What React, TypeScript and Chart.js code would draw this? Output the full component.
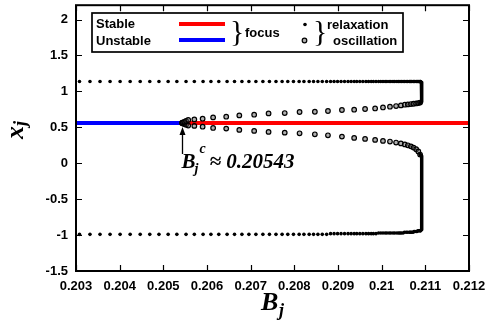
import React, { useEffect, useRef } from "react";
import { Chart, registerables } from "chart.js";

Chart.register(...registerables);

// ---- axes ----
const xMin = 0.203;
const xMax = 0.212;
const yMin = -1.5;
const yMax = 2.2;
const xTicks = [0.203, 0.204, 0.205, 0.206, 0.207, 0.208, 0.209, 0.21, 0.211, 0.212];
const xTickLabels = ["0.203", "0.204", "0.205", "0.206", "0.207", "0.208", "0.209", "0.21", "0.211", "0.212"];
const yTicks = [-1.5, -1, -0.5, 0, 0.5, 1, 1.5, 2];
const yTickLabels = ["-1.5", "-1", "-0.5", "0", "0.5", "1", "1.5", "2"];

// ---- equilibrium (focus) ----
const hopfB = 0.20543;
const unstableFocusB = [0.203, 0.20543];
const unstableFocusX = [0.56, 0.56];
const stableFocusB = [0.20543, 0.212];
const stableFocusX = [0.56, 0.56];

// ---- stable relaxation oscillation (max / min of x_j) ----
const stableB = [
  0.20308, 0.20332, 0.20355, 0.20378, 0.20401, 0.20424, 0.20447, 0.20469, 0.2049, 0.20511,
  0.20531, 0.20552, 0.20571, 0.20591, 0.20609, 0.20627, 0.20646, 0.20663, 0.2068, 0.20696,
  0.20712, 0.20728, 0.20743, 0.20758, 0.20772, 0.20785, 0.20798, 0.20811, 0.20822, 0.20834,
  0.20844, 0.20854, 0.20864, 0.20874, 0.20883, 0.20891, 0.20899, 0.20907, 0.20915, 0.20923,
  0.2093, 0.20937, 0.20943, 0.2095, 0.20957, 0.20964, 0.2097, 0.20976, 0.20981, 0.20987,
  0.20993, 0.20998, 0.21003, 0.21008, 0.21012, 0.21017, 0.21021, 0.21026, 0.2103, 0.21035,
  0.21039, 0.21042, 0.21045, 0.21049, 0.21052, 0.21056, 0.21059, 0.21063, 0.21065, 0.21067,
  0.21069, 0.21072, 0.21074, 0.21076, 0.21079, 0.21081, 0.21083, 0.21085, 0.21087, 0.21089,
];
const stableMax = [
  1.137, 1.137, 1.137, 1.137, 1.137, 1.137, 1.137, 1.137, 1.137, 1.137,
  1.137, 1.137, 1.137, 1.137, 1.137, 1.137, 1.137, 1.137, 1.137, 1.137,
  1.137, 1.137, 1.137, 1.137, 1.137, 1.137, 1.137, 1.137, 1.137, 1.137,
  1.137, 1.137, 1.137, 1.137, 1.137, 1.137, 1.137, 1.137, 1.137, 1.137,
  1.137, 1.137, 1.137, 1.137, 1.137, 1.137, 1.137, 1.137, 1.137, 1.137,
  1.137, 1.137, 1.137, 1.137, 1.137, 1.137, 1.137, 1.137, 1.137, 1.137,
  1.137, 1.137, 1.137, 1.137, 1.137, 1.137, 1.137, 1.137, 1.137, 1.137,
  1.137, 1.137, 1.137, 1.137, 1.137, 1.137, 1.137, 1.137, 1.136, 1.136,
];
const stableMin = [
  -0.99, -0.99, -0.99, -0.99, -0.99, -0.99, -0.99, -0.99, -0.99, -0.99,
  -0.99, -0.99, -0.99, -0.99, -0.99, -0.99, -0.99, -0.99, -0.99, -0.99,
  -0.99, -0.99, -0.99, -0.99, -0.99, -0.99, -0.99, -0.99, -0.99, -0.99,
  -0.99, -0.99, -0.99, -0.99, -0.98, -0.98, -0.98, -0.98, -0.98, -0.98,
  -0.98, -0.98, -0.98, -0.98, -0.98, -0.98, -0.98, -0.98, -0.98, -0.98,
  -0.97, -0.97, -0.97, -0.97, -0.97, -0.97, -0.97, -0.97, -0.97, -0.97,
  -0.97, -0.97, -0.97, -0.97, -0.96, -0.96, -0.96, -0.96, -0.96, -0.96,
  -0.96, -0.96, -0.95, -0.95, -0.95, -0.95, -0.94, -0.94, -0.94, -0.94,
];

// ---- fold of cycles (dense part of the stable branch) ----
const foldUpperB = [0.21089, 0.21091, 0.21092, 0.21092, 0.21091, 0.21088];
const foldUpperX = [1.136, 1.128, 1.11, 0.87, 0.855, 0.845];
const foldLowerB = [0.21089, 0.21091, 0.21092, 0.21092, 0.21091, 0.21088];
const foldLowerX = [-0.94, -0.925, -0.895, 0.07, 0.1, 0.12];

// ---- unstable oscillation (max / min of x_j) ----
const unstableB = [
  0.20543, 0.20545, 0.20548, 0.20552, 0.20557, 0.20571, 0.2059, 0.20614, 0.20644, 0.20674,
  0.20708, 0.20741, 0.20778, 0.20812, 0.20847, 0.20877, 0.20909, 0.20937, 0.20962, 0.20985,
  0.21003, 0.21019, 0.21033, 0.21044, 0.21053, 0.2106, 0.21067, 0.21073, 0.21079, 0.21084,
  0.21088,
];
const unstableMax = [
  0.56, 0.567, 0.576, 0.588, 0.602, 0.61, 0.62, 0.638, 0.648, 0.666,
  0.676, 0.694, 0.699, 0.713, 0.717, 0.727, 0.741, 0.745, 0.755, 0.763,
  0.777, 0.787, 0.796, 0.805, 0.815, 0.819, 0.824, 0.828, 0.832, 0.838,
  0.845,
];
const unstableMin = [
  0.56, 0.553, 0.545, 0.535, 0.525, 0.52, 0.509, 0.491, 0.482, 0.464,
  0.45, 0.436, 0.426, 0.417, 0.403, 0.389, 0.371, 0.353, 0.339, 0.325,
  0.311, 0.302, 0.288, 0.276, 0.262, 0.25, 0.235, 0.218, 0.195, 0.165,
  0.12,
];

const pts = (xs: number[], ys: number[]) => xs.map((x, i) => ({ x, y: ys[i] }));

const SANS = "'Liberation Sans', Arial, sans-serif";
const SERIF = "'Liberation Serif', 'Times New Roman', serif";
const RING = "#000";
const RING_FILL = "rgba(80,80,80,0.45)";

const decorPlugin = {
  id: "decor",
  afterDatasetsDraw(chart: any) {
    const { ctx, chartArea: a, scales } = chart;
    const xs = scales.x;
    const ys = scales.y;
    ctx.save();

    // frame
    ctx.strokeStyle = "#000";
    ctx.lineWidth = 2;
    ctx.strokeRect(a.left, a.top, a.right - a.left, a.bottom - a.top);

    // inward ticks on all four sides
    ctx.lineWidth = 1.2;
    ctx.beginPath();
    const tl = 6;
    xTicks.forEach((v) => {
      const px = Math.round(xs.getPixelForValue(v)) + 0.5;
      ctx.moveTo(px, a.bottom);
      ctx.lineTo(px, a.bottom - tl);
      ctx.moveTo(px, a.top);
      ctx.lineTo(px, a.top + tl);
    });
    yTicks.forEach((v) => {
      const py = Math.round(ys.getPixelForValue(v)) + 0.5;
      ctx.moveTo(a.left, py);
      ctx.lineTo(a.left + tl, py);
      ctx.moveTo(a.right, py);
      ctx.lineTo(a.right - tl, py);
    });
    ctx.stroke();

    // legend box
    const lx = 92, ly = 13, lw = 311, lh = 39;
    ctx.fillStyle = "#fff";
    ctx.fillRect(lx, ly, lw, lh);
    ctx.lineWidth = 1.7;
    ctx.strokeStyle = "#000";
    ctx.strokeRect(lx, ly, lw, lh);

    ctx.fillStyle = "#000";
    ctx.font = `bold 13px ${SANS}`;
    ctx.textBaseline = "middle";
    ctx.textAlign = "left";
    ctx.fillText("Stable", 96, 24.5);
    ctx.fillText("Unstable", 96, 41);
    ctx.fillText("focus", 245, 33);
    ctx.fillText("relaxation", 327, 25);
    ctx.fillText("oscillation", 333, 41.5);

    ctx.lineWidth = 4;
    ctx.strokeStyle = "#ff0000";
    ctx.beginPath();
    ctx.moveTo(179, 24);
    ctx.lineTo(225, 24);
    ctx.stroke();
    ctx.strokeStyle = "#0000ff";
    ctx.beginPath();
    ctx.moveTo(179, 40);
    ctx.lineTo(225, 40);
    ctx.stroke();

    ctx.font = `30px ${SERIF}`;
    ctx.fillStyle = "#000";
    ctx.fillText("}", 230, 33);
    ctx.fillText("}", 313, 33);

    ctx.beginPath();
    ctx.arc(305, 24.5, 1.8, 0, Math.PI * 2);
    ctx.fill();
    ctx.beginPath();
    ctx.arc(304.5, 40.5, 2.3, 0, Math.PI * 2);
    ctx.fillStyle = RING_FILL;
    ctx.fill();
    ctx.lineWidth = 1.2;
    ctx.strokeStyle = RING;
    ctx.stroke();

    // annotation arrow at the Hopf point
    const hx = Math.round(xs.getPixelForValue(hopfB)) + 0.5;
    const hy = ys.getPixelForValue(stableFocusX[0]);
    ctx.strokeStyle = "#000";
    ctx.fillStyle = "#000";
    ctx.lineWidth = 1.3;
    ctx.beginPath();
    ctx.moveTo(hx, hy + 31);
    ctx.lineTo(hx, hy + 9);
    ctx.stroke();
    ctx.beginPath();
    ctx.moveTo(hx, hy + 4);
    ctx.lineTo(hx - 3, hy + 12);
    ctx.lineTo(hx + 3, hy + 12);
    ctx.closePath();
    ctx.fill();

    ctx.textBaseline = "alphabetic";
    ctx.font = `bold italic 21px ${SERIF}`;
    ctx.fillText("B", hx - 1, hy + 45);
    ctx.font = `bold italic 14px ${SERIF}`;
    ctx.fillText("j", hx + 12, hy + 50);
    ctx.fillText("c", hx + 17, hy + 30);
    ctx.font = `bold italic 21px ${SERIF}`;
    ctx.fillText("\u2248 0.20543", hx + 27, hy + 45);

    // x-axis title B_j
    ctx.font = `bold italic 26px ${SERIF}`;
    ctx.fillText("B", 261, 310);
    ctx.font = `bold italic 18px ${SERIF}`;
    ctx.fillText("j", 279, 316);

    // y-axis title x_j (rotated)
    ctx.save();
    ctx.translate(23, 139);
    ctx.rotate(-Math.PI / 2);
    ctx.font = `bold italic 26px ${SERIF}`;
    ctx.fillText("x", 0, 0);
    ctx.font = `bold italic 18px ${SERIF}`;
    ctx.fillText("j", 13, 3);
    ctx.restore();

    ctx.restore();
  },
};

export default function App() {
  const ref = useRef<HTMLCanvasElement | null>(null);

  useEffect(() => {
    document.body.style.margin = "0";
    const canvas = ref.current;
    if (!canvas) return;
    const tickFont = { family: SANS, size: 13, weight: "bold" as const };
    const dot = {
      pointRadius: 1.8,
      pointBackgroundColor: "#000",
      pointBorderWidth: 0,
      showLine: false,
      order: 1,
    };
    const ring = {
      pointRadius: 2.3,
      pointBorderWidth: 1.2,
      pointBorderColor: RING,
      pointBackgroundColor: RING_FILL,
      showLine: false,
      order: 3,
    };
    const fold = {
      showLine: true,
      borderColor: "#000",
      borderWidth: 3.5,
      pointRadius: 0,
      borderJoinStyle: "round" as const,
      borderCapStyle: "round" as const,
      order: 2,
    };
    const chart = new Chart(canvas, {
      type: "scatter",
      data: {
        datasets: [
          { data: pts(stableB, stableMax), ...dot },
          { data: pts(stableB, stableMin), ...dot },
          { data: pts(foldUpperB, foldUpperX), ...fold },
          { data: pts(foldLowerB, foldLowerX), ...fold },
          { data: pts(unstableB, unstableMax), ...ring },
          { data: pts(unstableB, unstableMin), ...ring },
          {
            data: pts(stableFocusB, stableFocusX),
            showLine: true,
            borderColor: "#ff0000",
            borderWidth: 4,
            pointRadius: 0,
            order: 5,
          },
          {
            data: pts(unstableFocusB, unstableFocusX),
            showLine: true,
            borderColor: "#0000ff",
            borderWidth: 4,
            pointRadius: 0,
            order: 5,
          },
        ],
      },
      options: {
        animation: false,
        responsive: false,
        devicePixelRatio: 1,
        events: [],
        layout: { padding: { left: 0, right: 22, top: 4, bottom: 0 } },
        plugins: { legend: { display: false }, tooltip: { enabled: false } },
        scales: {
          x: {
            type: "linear",
            min: xMin,
            max: xMax,
            grid: { display: false, drawTicks: false },
            border: { display: false },
            ticks: {
              font: tickFont,
              color: "#000",
              padding: 8,
              maxRotation: 0,
              autoSkip: false,
              callback: (_v: any, i: number) => xTickLabels[i],
            },
            afterBuildTicks: (s: any) => {
              s.ticks = xTicks.map((v) => ({ value: v }));
            },
            afterFit: (s: any) => {
              s.height = 58;
              s.paddingLeft = 0;
              s.paddingRight = 0;
            },
          },
          y: {
            type: "linear",
            min: yMin,
            max: yMax,
            grid: { display: false, drawTicks: false },
            border: { display: false },
            ticks: {
              font: tickFont,
              color: "#000",
              padding: 8,
              autoSkip: false,
              callback: (_v: any, i: number) => yTickLabels[i],
            },
            afterBuildTicks: (s: any) => {
              s.ticks = yTicks.map((v) => ({ value: v }));
            },
            afterFit: (s: any) => {
              s.width = 76;
              s.paddingTop = 0;
              s.paddingBottom = 0;
            },
          },
        },
      },
      plugins: [decorPlugin],
    });
    return () => chart.destroy();
  }, []);

  return (
    <div style={{ position: "fixed", left: 0, top: 0, width: 491, height: 329, background: "#fff" }}>
      <canvas ref={ref} width={491} height={329} style={{ display: "block" }} />
    </div>
  );
}
